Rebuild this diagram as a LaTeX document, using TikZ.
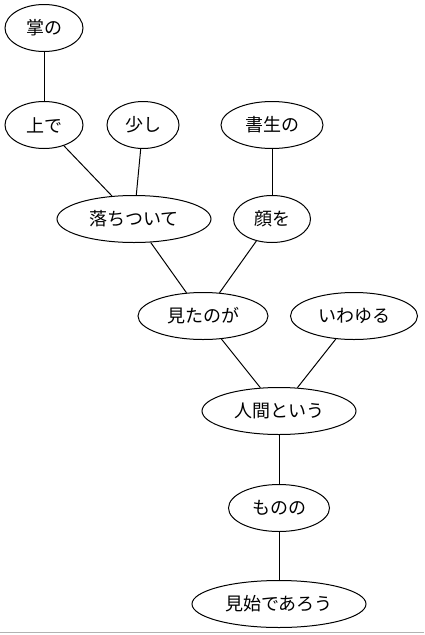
\documentclass[tikz,border=0pt]{standalone}
\usepackage{fontspec}
\newfontfamily\cjk{Noto Sans CJK JP}
\usetikzlibrary{shapes.geometric}
\begin{document}
\begin{tikzpicture}[x=1pt,y=-1pt,
  word/.style={ellipse,draw,line width=1pt,inner sep=0pt,minimum height=47pt,font=\cjk\fontsize{18}{20}\selectfont},
  link/.style={line width=1pt}]
\useasboundingbox (0,0) rectangle (424,635);
\node[word,minimum width=78pt] (a) at (44,28) {掌の};
\node[word,minimum width=78pt] (b) at (44,125) {上で};
\node[word,minimum width=72pt] (c) at (143,125) {少し};
\node[word,minimum width=102pt] (d) at (272,125) {書生の};
\node[word,minimum width=154pt] (e) at (134,219) {落ちついて};
\node[word,minimum width=77pt] (f) at (272,219) {顔を};
\node[word,minimum width=130pt] (g) at (203,316) {見たのが};
\node[word,minimum width=127pt] (h) at (354,316) {いわゆる};
\node[word,minimum width=154pt] (i) at (279,411) {人間という};
\node[word,minimum width=101pt] (j) at (279,508) {ものの};
\node[word,minimum width=174pt] (k) at (279,604) {見始であろう};
\draw[link] (a) -- (b);
\draw[link] (b) -- (e);
\draw[link] (c) -- (e);
\draw[link] (d) -- (f);
\draw[link] (e) -- (g);
\draw[link] (f) -- (g);
\draw[link] (g) -- (i);
\draw[link] (h) -- (i);
\draw[link] (i) -- (j);
\draw[link] (j) -- (k);
\coordinate (l1) at (0,632);
\coordinate (l2) at (424,632);
\draw[gray!60,line width=1pt] (l1) -- (l2);
\end{tikzpicture}
\end{document}
